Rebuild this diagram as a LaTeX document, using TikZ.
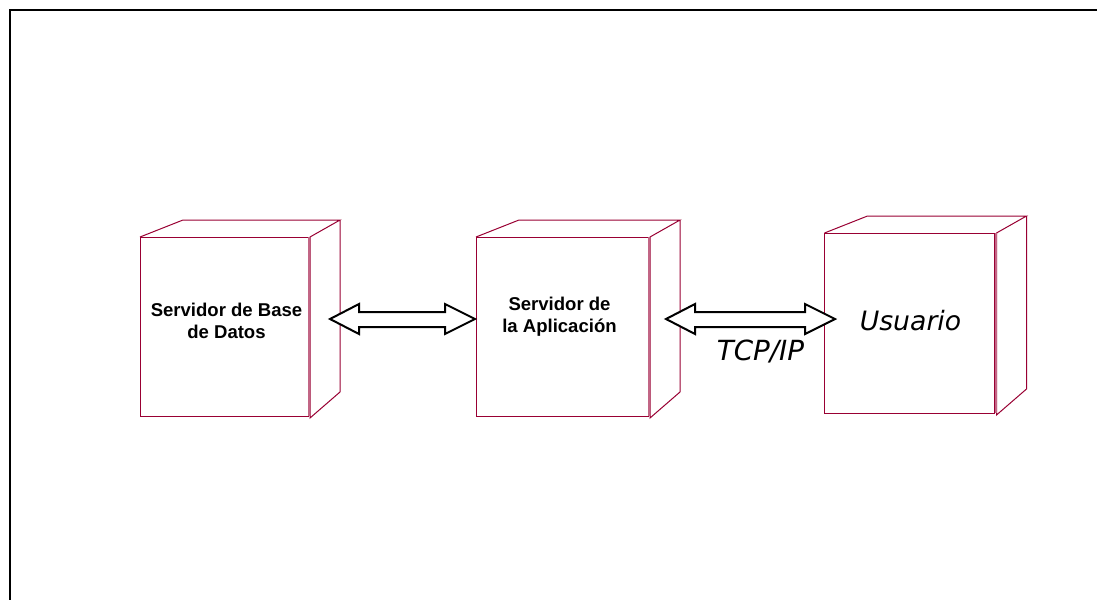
\documentclass[tikz,border=0pt]{standalone}
\usepackage{fontspec}
\usetikzlibrary{calc}
\setmainfont{Liberation Sans}
\newfontfamily\usrfont{DejaVu Sans}
\definecolor{nodered}{HTML}{990033}
\newcommand{\cubebox}[5]{% name, x0, y0, x1, y1 (front face)
  \node[frontface, minimum width={0.75pt*(#4-#2)}, minimum height={0.75pt*(#5-#3)}, anchor=north west] (#1) at (#2,#3) {};
  \draw[nodered, line width=0.75pt, line join=miter]
    (#1.north west) -- ++(43,-17) -- ($(#1.north east)+(32,-17)$) -- ($(#1.north east)+(2,0)$)
    -- ($(#1.south east)+(2,2)$) -- ($(#1.south east)+(32,-24)$) -- ($(#1.north east)+(32,-17)$);
  \draw[nodered!60, line width=1.5pt] ($(#1.north east)+(1,0)$) -- ($(#1.south east)+(1,0)$);
}
\newcommand{\dblarrow}[2]{% left and right tips
  \draw[arrowbody] (#1) -- ($(#1)+(29,-15)$) -- ($(#1)+(29,-7)$) -- ($(#2)+(-30,-7)$) -- ($(#2)+(-30,-15)$) -- (#2)
    -- ($(#2)+(-30,15)$) -- ($(#2)+(-30,8)$) -- ($(#1)+(29,8)$) -- ($(#1)+(29,15)$) -- cycle;
}
\tikzset{
  x=0.75pt, y=-0.75pt,
  frontface/.style={draw=nodered, line width=0.75pt, inner sep=0pt, outer sep=0pt},
  arrowbody/.style={draw=black, fill=white, line width=1.5pt, line join=miter},
  boldlabel/.style={font=\fontsize{13.9}{16.5}\selectfont\bfseries, align=center, inner sep=0pt},
  italiclabel/.style={font=\usrfont\fontsize{20}{24}\selectfont\itshape, inner sep=0pt}
}
\begin{document}
\begin{tikzpicture}
\useasboundingbox (0,0) rectangle (1097,600);
\fill[white] (0,0) rectangle (1097,600);
\coordinate (frameTR) at (1097,10);
\coordinate (frameTL) at (10,10);
\coordinate (frameBL) at (10,600);
\draw[black, line width=1.5pt] (frameBL) -- (frameTL) -- (frameTR);
\cubebox{db}{140}{237}{308}{416}
\cubebox{app}{476}{237}{648}{416}
\cubebox{usr}{824.5}{233}{994.5}{413}
\coordinate (a1l) at (330,319);
\coordinate (a1r) at (475,319);
\coordinate (a2l) at (666,319);
\coordinate (a2r) at (835,319);
\dblarrow{a1l}{a1r}
\dblarrow{a2l}{a2r}
\node[boldlabel] (dbt) at (226.5,320.5) {Servidor de Base\\de Datos};
\node[boldlabel] (appt) at (559.5,316.5) {Servidor de\\la Aplicación};
\node[italiclabel] (usrt) at (910.5,321) {Usuario};
\node[italiclabel, font=\usrfont\fontsize{20.8}{24}\selectfont\itshape] (tcp) at (760.5,351) {TCP/IP};
\end{tikzpicture}
\end{document}
